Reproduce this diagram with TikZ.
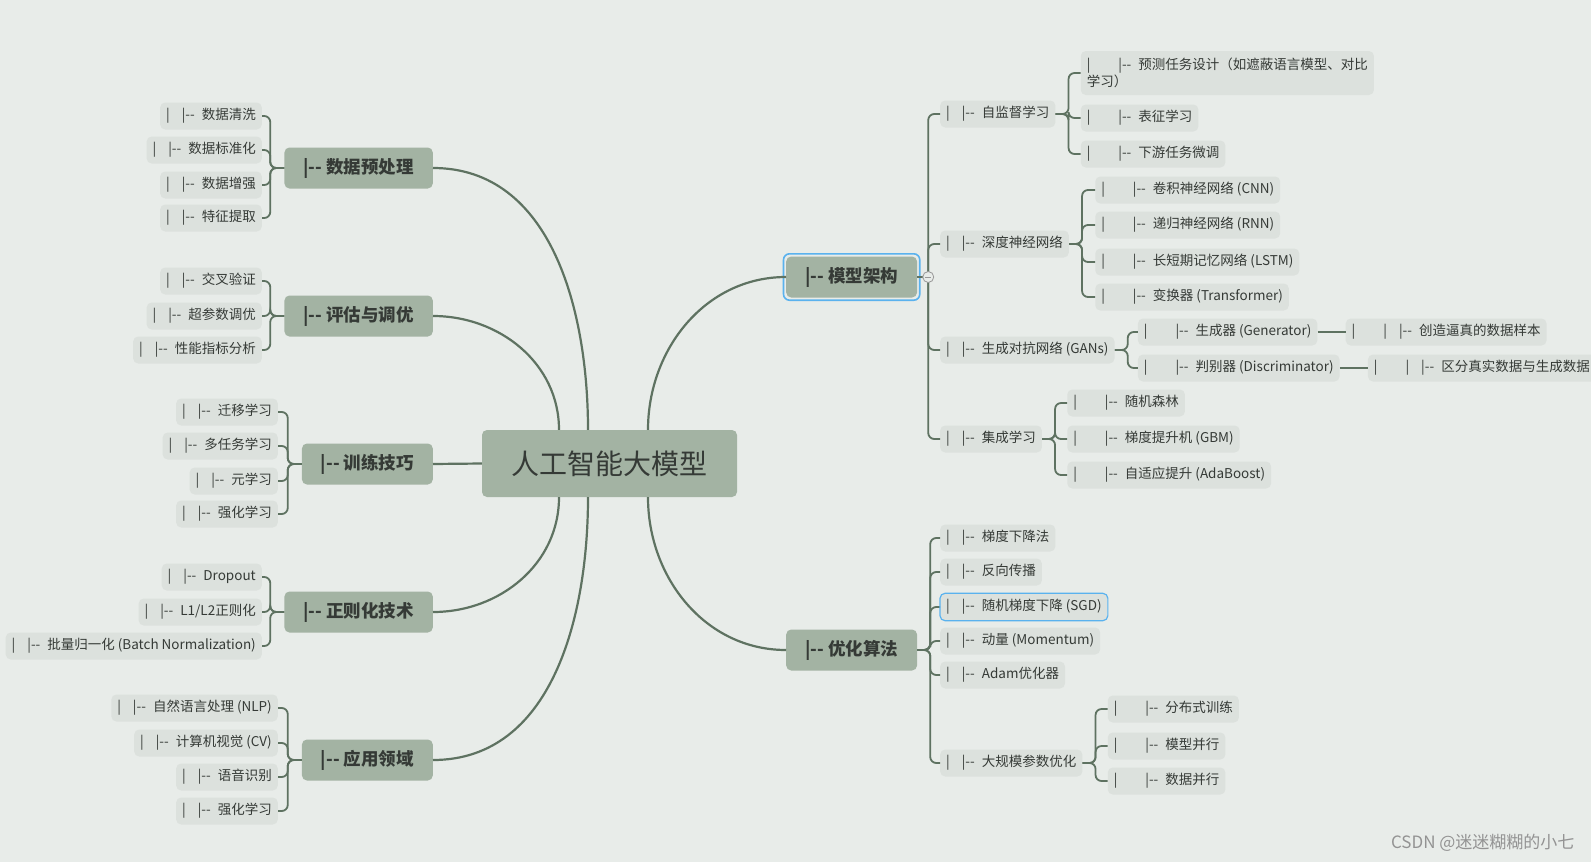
\documentclass[tikz,border=0pt]{standalone}
\usepackage{fontspec}
\setmainfont{Noto Sans CJK SC}
\usetikzlibrary{positioning, calc, fit}
\definecolor{bgpaper}{HTML}{E8ECE9}
\definecolor{sage}{HTML}{A3B3A3}
\definecolor{leaffill}{HTML}{DCE1DD}
\definecolor{linkcol}{HTML}{5E7261}
\definecolor{inktext}{HTML}{353A36}
\definecolor{selblue}{HTML}{5AB2EE}
\newcommand\lva{|\hspace{12pt}|-{}-\hspace{7pt}}
\newcommand\lvb{|\hspace{28pt}|-{}-\hspace{7pt}}
\newcommand\lvc{|\hspace{28pt}|\hspace{12pt}|-{}-\hspace{7pt}}
\tikzset{
  root/.style={
    fill=sage, rounded corners=5pt, minimum width=255pt, minimum height=67pt,
    font=\fontsize{28}{30}\selectfont, text=inktext
  },
  topic/.style={
    fill=sage, rounded corners=5pt, minimum height=41pt, inner xsep=19pt,
    font=\fontsize{17.5}{19}\selectfont\bfseries, text=inktext
  },
  leaf/.style={
    fill=leaffill, rounded corners=5pt, minimum height=27pt, inner xsep=6pt,
    inner ysep=2pt, font=\fontsize{13.5}{17}\selectfont, text=inktext
  },
  branch/.style={draw=linkcol, line width=2.2pt},
  link/.style={draw=linkcol, line width=1.8pt, rounded corners=6pt},
  selbox/.style={draw=selblue, line width=1.6pt, rounded corners=6pt, inner sep=2.5pt},
  toggle/.style={
    circle, draw=gray!80, fill=bgpaper, line width=0.8pt, minimum size=11pt, inner sep=0pt,
    path picture={\draw[gray!80, line width=0.8pt]
      ([xshift=-3pt]path picture bounding box.center) -- ([xshift=3pt]path picture bounding box.center);}
  }
}
\begin{document}
\begin{tikzpicture}[x=1pt, y=-1pt]
  \useasboundingbox (0,0) rectangle (1591,862);
  \fill[bgpaper] (0,0) rectangle (1591,862);

  \node[root] (root) at (609.5,463.5) {人工智能大模型};
  \node[topic, anchor=east] (prep) at (433,168) {|-{}- 数据预处理};
  \node[topic, anchor=east] (eval) at (433,316) {|-{}- 评估与调优};
  \node[topic, anchor=east] (train) at (433,464) {|-{}- 训练技巧};
  \node[topic, anchor=east] (reg) at (433,612) {|-{}- 正则化技术};
  \node[topic, anchor=east] (app) at (433,760) {|-{}- 应用领域};
  \node[topic, anchor=west] (arch) at (786,277) {|-{}- 模型架构};
  \node[topic, anchor=west] (opt) at (786,650) {|-{}- 优化算法};
  \node[selbox, fit=(arch)] (archsel) {};

  \draw[branch] ([xshift=-21.5]root.north) to[out=90, in=0] (prep.east);
  \draw[branch] ([xshift=-50.5]root.north) to[out=90, in=0] (eval.east);
  \draw[branch] (root.west) -- (train.east);
  \draw[branch] ([xshift=-50.5]root.south) to[out=-90, in=0] (reg.east);
  \draw[branch] ([xshift=-21.5]root.south) to[out=-90, in=0] (app.east);
  \draw[branch] ([xshift=38.5]root.north) to[out=90, in=180] (arch.west);
  \draw[branch] ([xshift=38.5]root.south) to[out=-90, in=180] (opt.west);

  \foreach \y/\txt [count=\i] in {116/数据清洗, 150/数据标准化, 185/数据增强, 218/特征提取} {
    \node[leaf, anchor=east] (prep\i) at (262,\y) {\lva\txt};
    \draw[link] (prep.west) -- ++(-14,0) |- (prep\i.east);
  }
  \foreach \y/\txt [count=\i] in {281/交叉验证, 316/超参数调优, 350/性能指标分析} {
    \node[leaf, anchor=east] (eval\i) at (262,\y) {\lva\txt};
    \draw[link] (eval.west) -- ++(-14,0) |- (eval\i.east);
  }
  \foreach \y/\txt [count=\i] in {412/迁移学习, 446/多任务学习, 481/元学习, 514/强化学习} {
    \node[leaf, anchor=east] (train\i) at (278,\y) {\lva\txt};
    \draw[link] (train.west) -- ++(-14,0) |- (train\i.east);
  }
  \foreach \y/\txt [count=\i] in {577/Dropout, 612/{L1/L2正则化}, 646/{批量归一化 (Batch Normalization)}} {
    \node[leaf, anchor=east] (reg\i) at (262,\y) {\lva\txt};
    \draw[link] (reg.west) -- ++(-14,0) |- (reg\i.east);
  }
  \foreach \y/\txt [count=\i] in {708/{自然语言处理 (NLP)}, 743/{计算机视觉 (CV)}, 777/语音识别, 811/强化学习} {
    \node[leaf, anchor=east] (app\i) at (278,\y) {\lva\txt};
    \draw[link] (app.west) -- ++(-14,0) |- (app\i.east);
  }

  \foreach \y/\txt [count=\i] in {114/自监督学习, 244/深度神经网络, 350/{生成对抗网络 (GANs)}, 439/集成学习} {
    \node[leaf, anchor=west] (arch\i) at (940,\y) {\lva\txt};
    \draw[link] (arch.east) -- ++(11,0) |- (arch\i.west);
  }
  \node[leaf, anchor=west, align=left, minimum height=44pt]
    (ssl1) at ($(arch1.east |- 0,73)+(25,0)$) {\lvb 预测任务设计（如遮蔽语言模型、对比\\学习）};
  \foreach \y/\txt [count=\i from 2] in {118/表征学习, 154/下游任务微调} {
    \node[leaf, anchor=west] (ssl\i) at ($(arch1.east |- 0,\y)+(25,0)$) {\lvb\txt};
  }
  \foreach \i in {1,2,3} \draw[link] (arch1.east) -- ++(13,0) |- (ssl\i.west);

  \foreach \y/\txt [count=\i] in {190/{卷积神经网络 (CNN)}, 225/{递归神经网络 (RNN)}, 262/{长短期记忆网络 (LSTM)}, 297/{变换器 (Transformer)}} {
    \node[leaf, anchor=west] (dnn\i) at ($(arch2.east |- 0,\y)+(26,0)$) {\lvb\txt};
    \draw[link] (arch2.east) -- ++(13,0) |- (dnn\i.west);
  }

  \node[leaf, anchor=west] (gen) at ($(arch3.east |- 0,332)+(23,0)$) {\lvb 生成器 (Generator)};
  \node[leaf, anchor=west] (disc) at ($(arch3.east |- 0,368)+(23,0)$) {\lvb 判别器 (Discriminator)};
  \node[leaf, right=28pt of gen] (genx) {\lvc 创造逼真的数据样本};
  \node[leaf, right=28pt of disc] (discx) {\lvc 区分真实数据与生成数据};
  \draw[link] (arch3.east) -- ++(13,0) |- (gen.west);
  \draw[link] (arch3.east) -- ++(13,0) |- (disc.west);
  \draw[link, line width=1.4pt] (gen.east) -- (genx.west);
  \draw[link, line width=1.4pt] (disc.east) -- (discx.west);

  \foreach \y/\txt [count=\i] in {403/随机森林, 439/{梯度提升机 (GBM)}, 475/{自适应提升 (AdaBoost)}} {
    \node[leaf, anchor=west] (ens\i) at ($(arch4.east |- 0,\y)+(25,0)$) {\lvb\txt};
    \draw[link] (arch4.east) -- ++(13,0) |- (ens\i.west);
  }

  \foreach \y/\txt [count=\i] in {538/梯度下降法, 572/反向传播, 607/{随机梯度下降 (SGD)}, 641/{动量 (Momentum)}, 675/Adam优化器, 763/大规模参数优化} {
    \node[leaf, anchor=west] (opt\i) at (940,\y) {\lva\txt};
    \draw[link] (opt.east) -- ++(13,0) |- (opt\i.west);
  }
  \draw[selblue, line width=1.2pt, rounded corners=5pt] (opt3.north west) rectangle (opt3.south east);
  \foreach \y/\txt [count=\i] in {709/分布式训练, 746/模型并行, 781/数据并行} {
    \node[leaf, anchor=west] (big\i) at ($(opt6.east |- 0,\y)+(25,0)$) {\lvb\txt};
    \draw[link] (opt6.east) -- ++(13,0) |- (big\i.west);
  }

  \node[toggle] (tog) at ([xshift=11]arch.east) {};
  \node[font=\fontsize{17}{17}\selectfont, text=gray!85, anchor=east] (mark) at (1578,843) {CSDN @迷迷糊糊的小七};
\end{tikzpicture}
\end{document}
